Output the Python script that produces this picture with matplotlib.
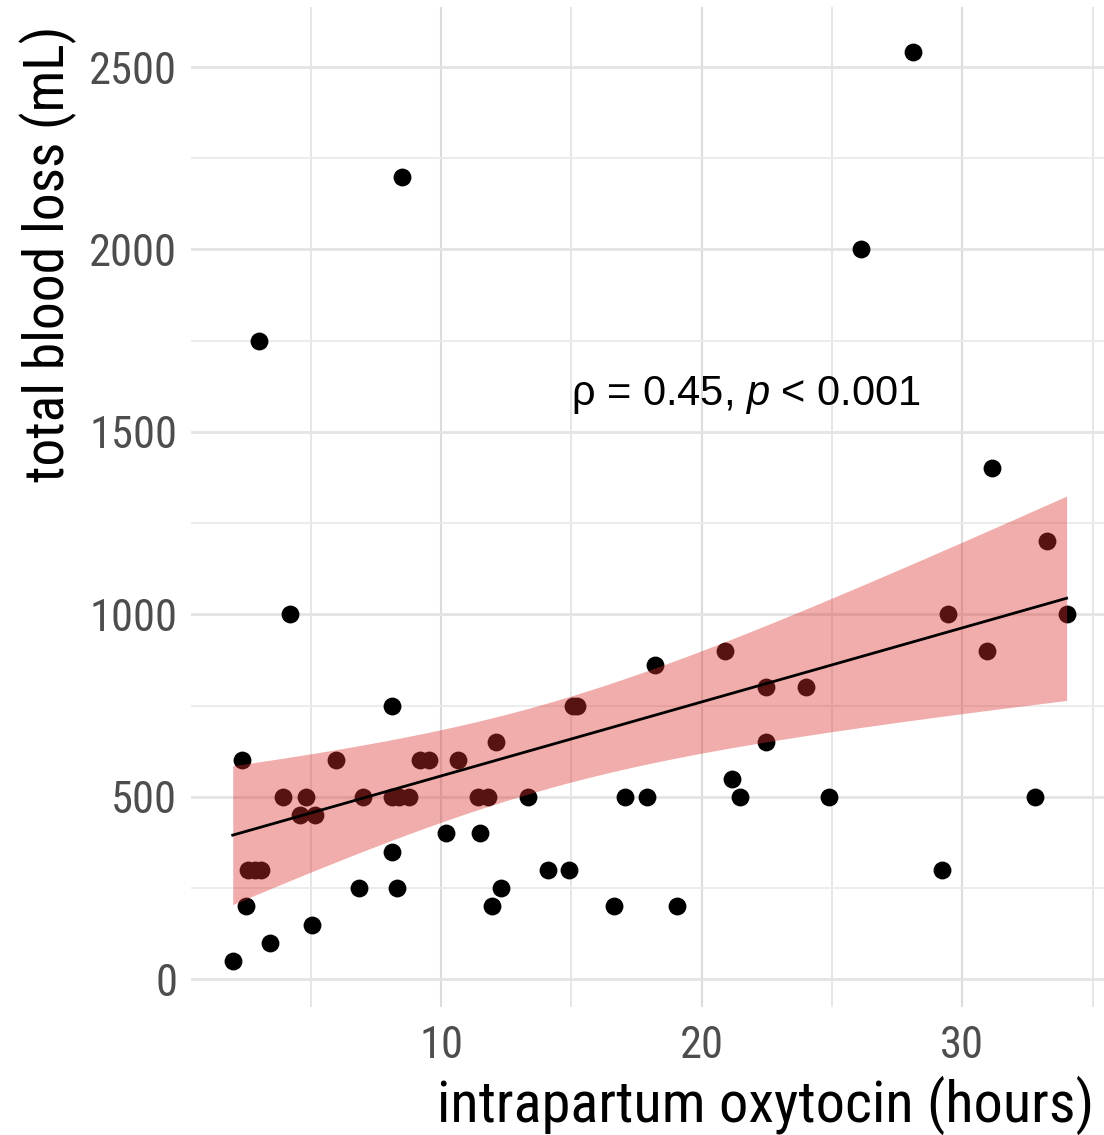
import matplotlib
matplotlib.use("Agg")
import matplotlib.pyplot as plt
import numpy as np
from matplotlib.ticker import MultipleLocator

# oxytocin hours vs total blood loss
oxytocin_hours = [
    2.0, 2.35, 2.5, 2.6, 2.85, 3.1, 3.0, 3.45, 3.94, 4.2,
    4.6, 4.8, 5.05, 5.15, 5.95, 6.85, 7.0, 8.1, 8.1, 8.1,
    8.4, 8.75, 8.3, 8.5, 9.2, 9.55, 10.2, 10.65, 11.4, 11.8,
    11.5, 11.95, 12.1, 12.3, 13.35, 14.1, 14.9, 15.05, 15.2, 16.65,
    17.05, 17.9, 18.2, 19.05, 20.9, 21.15, 21.45, 22.45, 22.45, 24.0,
    24.9, 26.1, 28.1, 29.2, 29.45, 30.95, 31.15, 32.8, 33.25, 34.0,
]
blood_loss_ml = [
    50, 600, 200, 300, 300, 300, 1750, 100, 500, 1000,
    450, 500, 150, 450, 600, 250, 500, 750, 350, 500,
    500, 500, 250, 2200, 600, 600, 400, 600, 500, 500,
    400, 200, 650, 250, 500, 300, 300, 750, 750, 200,
    500, 500, 860, 200, 900, 550, 500, 800, 650, 800,
    500, 2000, 2540, 300, 1000, 900, 1400, 500, 1200, 1000,
]

x_label = "intrapartum oxytocin (hours)"
y_label = "total blood loss (mL)"
cor_label = "ρ = 0.45, $\\mathit{p}$ < 0.001"
cor_label_x = 15.0
cor_label_y = 1575

T_CRIT = 2.0  # t(0.975, n-2) for n = 60

FONT = "Roboto Condensed"
plt.rcParams["font.family"] = [FONT, "DejaVu Sans"]
plt.rcParams["mathtext.fontset"] = "custom"
plt.rcParams["mathtext.rm"] = "Liberation Sans"
plt.rcParams["mathtext.it"] = "Liberation Sans:italic"

x = np.asarray(oxytocin_hours, dtype=float)
y = np.asarray(blood_loss_ml, dtype=float)

# linear fit with 95% confidence band (like geom_smooth(method = "lm"))
slope, intercept = np.polyfit(x, y, 1)
n = len(x)
resid = y - (slope * x + intercept)
s_err = np.sqrt(np.sum(resid ** 2) / (n - 2))
sxx = np.sum((x - x.mean()) ** 2)
xs = np.linspace(x.min(), x.max(), 100)
fit = slope * xs + intercept
half = T_CRIT * s_err * np.sqrt(1 / n + (xs - x.mean()) ** 2 / sxx)

W, H = 1104, 1135
fig = plt.figure(figsize=(W / 100, H / 100), dpi=100)
fig.patch.set_facecolor("white")

ax = fig.add_axes([191 / W, (H - 1006.5) / H, (1108.3 - 191) / W, (1006.5 - 7) / H])
ax.set_facecolor("white")

ax.scatter(x, y, s=165, color="black", linewidths=0, zorder=3)
ax.fill_between(xs, fit - half, fit + half, color=(220 / 255, 50 / 255, 45 / 255), alpha=0.4,
                linewidth=0, zorder=4)
ax.plot(xs, fit, color="black", linewidth=2.0, zorder=5)

ax.text(cor_label_x, cor_label_y, cor_label, fontsize=30, color="black",
        family=["Liberation Sans", "DejaVu Sans"], ha="left", va="baseline", zorder=6)

# ggplot-like 5% expansion
xr = x.max() - x.min()
yr = y.max() - y.min()
ax.set_xlim(x.min() - 0.05 * xr, x.max() + 0.05 * xr)
ax.set_ylim(y.min() - 0.05 * yr, y.max() + 0.05 * yr)

ax.xaxis.set_major_locator(MultipleLocator(10))
ax.xaxis.set_minor_locator(MultipleLocator(5))
ax.yaxis.set_major_locator(MultipleLocator(500))
ax.yaxis.set_minor_locator(MultipleLocator(250))

ax.set_axisbelow(True)
ax.grid(which="major", axis="x", color="#DCDCDC", linewidth=1.5)
ax.grid(which="minor", axis="x", color="#E2E2E2", linewidth=1.2)
ax.grid(which="major", axis="y", color="#E4E4E4", linewidth=2.0)
ax.grid(which="minor", axis="y", color="#EBEBEB", linewidth=1.3)

for sp in ax.spines.values():
    sp.set_visible(False)
ax.tick_params(which="both", length=0)
ax.tick_params(axis="x", labelsize=32, labelcolor="#4D4D4D", pad=13)
ax.tick_params(axis="y", labelsize=32, labelcolor="#4D4D4D", pad=10)

fig.text(48 / W, 1 - 26 / H, y_label, fontsize=40, rotation=90, ha="center", va="top")
fig.text(1094 / W, 13 / H, x_label, fontsize=42, ha="right", va="baseline")

fig.savefig("out.png", dpi=100, facecolor="white")
